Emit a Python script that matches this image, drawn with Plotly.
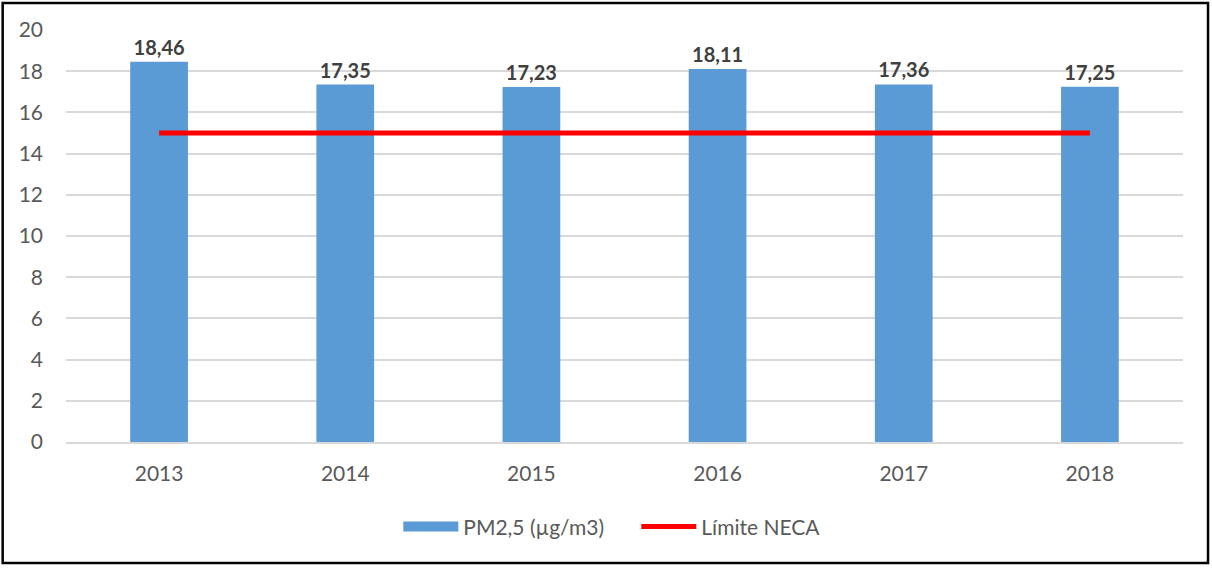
import plotly.graph_objects as go

years = ["2013", "2014", "2015", "2016", "2017", "2018"]
pm25 = [18.46, 17.35, 17.23, 18.11, 17.36, 17.25]
neca_limit = [15, 15, 15, 15, 15, 15]
pm25_labels = ["18,46", "17,35", "17,23", "18,11", "17,36", "17,25"]

FONT = "Lato, Carlito, Calibri, sans-serif"
BAR_COLOR = "#5B9BD5"

fig = go.Figure()

# Annual PM2.5 bars
fig.add_trace(go.Bar(
    x=years,
    y=pm25,
    name="PM2,5 (µg/m3)",
    marker=dict(color=BAR_COLOR, line=dict(width=0)),
    width=0.31,
    text=pm25_labels,
    textposition="outside",
    textfont=dict(family=FONT, size=20, color="#404040", weight="bold"),
    cliponaxis=False,
    showlegend=False,
))

# legend-only entry so the bar swatch is a wide block like in Excel
fig.add_trace(go.Scatter(
    x=[None],
    y=[None],
    name="PM2,5 (µg/m3)",
    mode="lines",
    line=dict(color=BAR_COLOR, width=13),
))

# NECA limit line
fig.add_trace(go.Scatter(
    x=years,
    y=neca_limit,
    name="Límite NECA",
    mode="lines",
    line=dict(color="#FF0000", width=5),
))

fig.update_layout(
    width=1212,
    height=568,
    margin=dict(l=66, r=29, t=30, b=126),
    paper_bgcolor="white",
    plot_bgcolor="white",
    font=dict(family=FONT, size=21, color="#595959"),
    showlegend=True,
    legend=dict(
        orientation="h",
        x=0.2975, xanchor="left",
        y=-0.206, yanchor="middle",
        font=dict(family=FONT, size=21, color="#595959"),
        itemwidth=55,
        entrywidth=168,
    ),
    xaxis=dict(
        showgrid=False,
        showline=True,
        linecolor="#d9d9d9",
        linewidth=1.5,
        ticks="",
        ticklabelstandoff=12,
        tickfont=dict(size=21, color="#595959"),
    ),
    yaxis=dict(
        range=[0, 20],
        dtick=2,
        showgrid=True,
        gridcolor="#d9d9d9",
        gridwidth=1.5,
        zeroline=False,
        ticks="",
        ticklabelstandoff=22,
        tickfont=dict(size=21, color="#595959"),
    ),
    shapes=[dict(
        type="rect", xref="paper", yref="paper",
        x0=-0.0567, x1=1.0224, y0=-0.2937, y1=1.0655,
        line=dict(color="black", width=2.5),
        fillcolor="rgba(0,0,0,0)", layer="above",
    )],
)

fig.write_html(
    "out.html",
    config={"displayModeBar": False},
    post_script="document.body.style.margin='0';",
)
